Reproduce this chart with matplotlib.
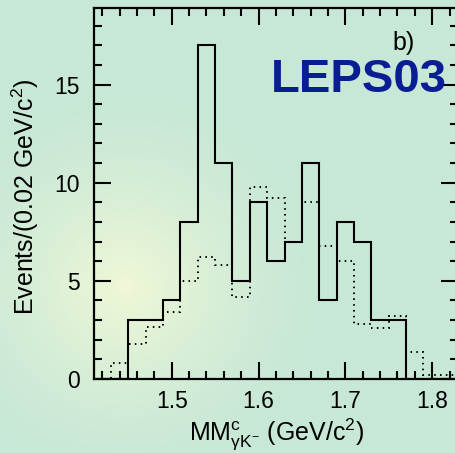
import numpy as np
import matplotlib
matplotlib.use("Agg")
import matplotlib.pyplot as plt
from matplotlib.ticker import MultipleLocator

plt.rcParams['font.family'] = ['Liberation Sans', 'DejaVu Sans']
plt.rcParams['mathtext.fontset'] = 'custom'
plt.rcParams['mathtext.rm'] = 'Liberation Sans'
plt.rcParams['mathtext.it'] = 'Liberation Sans:italic'
plt.rcParams['mathtext.bf'] = 'Liberation Sans:bold'

# Data: bins of 0.02 GeV/c^2, lower edges from 1.41 to 1.81
bin_edges = [1.41, 1.43, 1.45, 1.47, 1.49, 1.51, 1.53, 1.55, 1.57, 1.59, 1.61,
             1.63, 1.65, 1.67, 1.69, 1.71, 1.73, 1.75, 1.77, 1.79, 1.81, 1.83]
data_counts = [0, 0, 3, 3, 4, 8, 17, 11, 5, 9, 6, 7, 11, 4, 8, 7, 3, 3, 0, 0, 0]
mc_counts = [0, 0.8, 1.8, 2.65, 3.4, 5.0, 6.2, 5.8, 4.2, 9.8, 9.2, 7.0, 9.0,
             6.8, 6.0, 2.8, 2.6, 3.2, 1.4, 0.2, 0.2]
x_ticks = [1.5, 1.6, 1.7, 1.8]
x_tick_labels = ['1.5', '1.6', '1.7', '1.8']
y_ticks = [0, 5, 10, 15]

W, H = 456, 453
fig = plt.figure(figsize=(W / 100, H / 100), dpi=100)

# background gradient
bg = fig.add_axes([0, 0, 1, 1], zorder=-10)
yy, xx = np.mgrid[0:H, 0:W]
r = np.sqrt((xx - 125) ** 2 + (yy - 285) ** 2)
t = np.clip(1 - r / 190.0, 0, 1) ** 1.4
base = np.array([200, 232, 215]) / 255.0
glow = np.array([240, 248, 214]) / 255.0
img = base[None, None, :] * (1 - t[..., None]) + glow[None, None, :] * t[..., None]
bg.imshow(img, extent=[0, W, H, 0], aspect='auto', interpolation='bilinear')
bg.set_xlim(0, W)
bg.set_ylim(H, 0)
bg.axis('off')

left = 93.6 / W
bottom = (H - 379) / H
top = (H - 8) / H
width = 364.6 / W
ax = fig.add_axes([left, bottom, width, top - bottom])
ax.patch.set_alpha(0)

ax.stairs(data_counts, bin_edges, color='black', lw=1.5)
ax.stairs(mc_counts, bin_edges, color='black', lw=1.4, linestyle=(0, (0.8, 2.2)))

ax.set_xlim(1.41, 1.83)
ax.set_ylim(0, 18.9)
ax.set_xticks(x_ticks)
ax.set_xticklabels(x_tick_labels)
ax.set_yticks(y_ticks)
ax.xaxis.set_minor_locator(MultipleLocator(0.02))
ax.yaxis.set_minor_locator(MultipleLocator(1))
ax.tick_params(which='both', direction='in', top=True, right=True, width=1.5,
               labelsize=16.5, color='black')
ax.tick_params(which='major', length=12)
ax.tick_params(which='minor', length=6)
ax.tick_params(axis='x', pad=8)
ax.tick_params(axis='y', pad=10)
for s in ax.spines.values():
    s.set_linewidth(1.6)

ax.set_ylabel(r'Events/(0.02 GeV/c$^{2}$)', fontsize=18)
ax.yaxis.set_label_coords(41 / W, 1 - 197 / H, transform=fig.transFigure)
ax.set_xlabel(r'MM$^{\mathrm{c}}_{\mathrm{\gamma K}^{-}}$ (GeV/c$^{2}$)', fontsize=18)
ax.xaxis.set_label_coords(277 / W, 1 - 416 / H, transform=fig.transFigure)

fig.text(415 / W, 1 - 50 / H, 'b)', fontsize=18, ha='right', va='baseline')
fig.text(447 / W, 1 - 91.5 / H, 'LEPS03', fontsize=34, fontweight='bold',
         color='#0a1e93', ha='right', va='baseline')

fig.savefig('out.png', dpi=100)
